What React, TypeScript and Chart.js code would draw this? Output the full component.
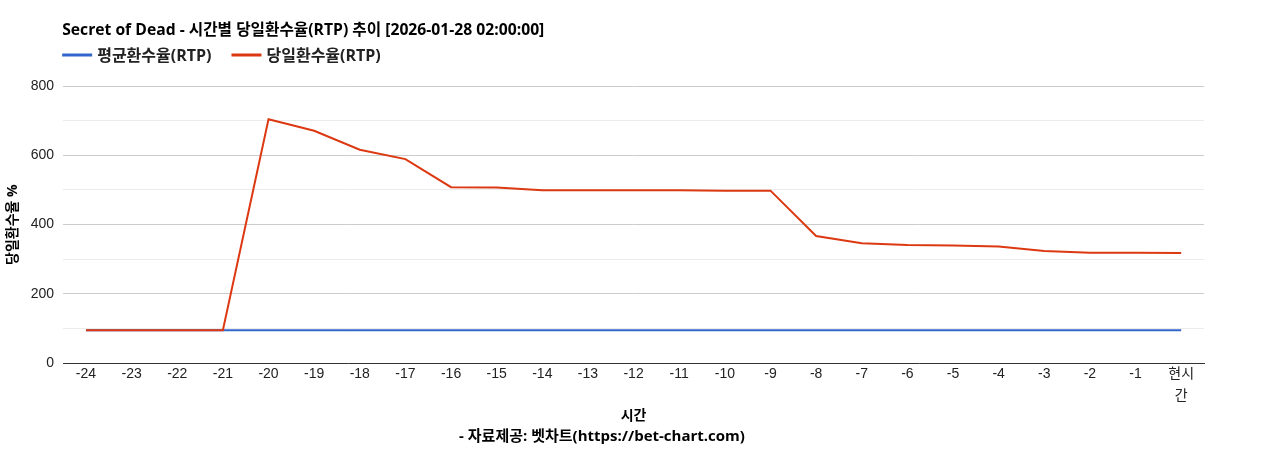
import { useEffect, useRef } from 'react';
import { Chart, registerables } from 'chart.js';

Chart.register(...registerables);

// hours before now, last one is "now"
const hours: (string | string[])[] = [
  '-24', '-23', '-22', '-21', '-20', '-19', '-18', '-17', '-16', '-15', '-14', '-13',
  '-12', '-11', '-10', '-9', '-8', '-7', '-6', '-5', '-4', '-3', '-2', '-1', ['현시', '간'],
];

// 평균환수율(RTP)
const avgRtp = [
  95, 95, 95, 95, 95, 95, 95, 95, 95, 95, 95, 95,
  95, 95, 95, 95, 95, 95, 95, 95, 95, 95, 95, 95, 95,
];

// 당일환수율(RTP)
const dailyRtp = [
  95, 95, 95, 95, 704, 671, 616, 589, 508, 507, 499, 499,
  499, 499, 498, 498, 367, 346, 341, 340, 337, 324, 319, 319, 318,
];

const yTicks = [0, 200, 400, 600, 800];

const FONT = "Arial, 'Liberation Sans', 'Noto Sans CJK KR', sans-serif";
const BOLD_FONT = "'Open Sans', 'Noto Sans CJK KR', sans-serif";
const BLUE = '#3366cc';
const RED = '#dc3912';

const titleText = 'Secret of Dead - 시간별 당일환수율(RTP) 추이 [2026-01-28 02:00:00]';
const legendItems = [
  { label: '평균환수율(RTP)', color: BLUE },
  { label: '당일환수율(RTP)', color: RED },
];

// title + legend drawn from the chart area's left edge
const headerPlugin = {
  id: 'header',
  afterDraw(chart: Chart) {
    const { ctx, chartArea } = chart;
    const left = chartArea.left - 1;
    ctx.save();
    ctx.textBaseline = 'middle';
    ctx.textAlign = 'left';
    ctx.fillStyle = '#000';
    ctx.font = `bold 15.7px ${BOLD_FONT}`;
    ctx.fillText(titleText, left, 31);

    ctx.font = `bold 16px ${BOLD_FONT}`;
    let x = left;
    legendItems.forEach((item) => {
      ctx.strokeStyle = item.color;
      ctx.lineWidth = 3;
      ctx.beginPath();
      ctx.moveTo(x, 55);
      ctx.lineTo(x + 30, 55);
      ctx.stroke();
      ctx.fillStyle = '#222';
      ctx.fillText(item.label, x + 35, 56);
      x += 35 + ctx.measureText(item.label).width + 20;
    });
    ctx.restore();
  },
};

export default function App() {
  const canvasRef = useRef<HTMLCanvasElement>(null);

  useEffect(() => {
    if (!canvasRef.current) return;
    const chart = new Chart(canvasRef.current, {
      type: 'line',
      data: {
        labels: hours,
        datasets: [
          {
            label: '평균환수율(RTP)',
            data: avgRtp,
            borderColor: BLUE,
            backgroundColor: BLUE,
            borderWidth: 2,
            pointRadius: 0,
            tension: 0,
            order: 1,
          },
          {
            label: '당일환수율(RTP)',
            data: dailyRtp,
            borderColor: RED,
            backgroundColor: RED,
            borderWidth: 2,
            pointRadius: 0,
            tension: 0,
            order: 0,
          },
        ],
      },
      options: {
        animation: false,
        responsive: false,
        layout: { padding: { top: 86, right: 64, left: 0, bottom: 0 } },
        plugins: {
          legend: { display: false },
          tooltip: { enabled: false },
          title: {
            display: true,
            position: 'bottom',
            text: '- 자료제공: 벳차트(https://bet-chart.com)',
            color: '#000',
            font: { family: BOLD_FONT, size: 15, weight: 'bold', lineHeight: 1.2 },
            padding: { top: 4, bottom: 4 },
          },
        },
        scales: {
          x: {
            offset: true,
            grid: { display: false, drawTicks: false },
            border: { display: true, color: '#333', width: 1 },
            ticks: {
              color: '#222',
              maxRotation: 0,
              autoSkip: false,
              padding: 0,
              font: { family: FONT, size: 14, lineHeight: 1.57 },
            },
            title: {
              display: true,
              text: '시간',
              color: '#000',
              font: { family: BOLD_FONT, size: 14, weight: 'bold', lineHeight: 1.2 },
              padding: 0,
            },
          },
          y: {
            min: 0,
            max: 800,
            grid: {
              drawTicks: false,
              color: (c: any) => (c.tick && c.tick.value % 200 === 0 ? '#cccccc' : '#ebebeb'),
            },
            border: { display: false },
            ticks: {
              stepSize: 100,
              padding: 9,
              color: '#222',
              font: { family: FONT, size: 14 },
              callback: (v: any) => (yTicks.includes(Number(v)) ? String(v) : ''),
            },
            title: {
              display: true,
              text: '당일환수율 %',
              color: '#000',
              font: { family: BOLD_FONT, size: 14, weight: 'bold' },
              padding: { top: 5, bottom: 0 },
            },
          },
        },
      },
      plugins: [headerPlugin],
    });
    return () => chart.destroy();
  }, []);

  return (
    <div style={{ position: 'fixed', left: 0, top: 0, width: 1268, height: 450, background: '#fff' }}>
      <canvas ref={canvasRef} width={1268} height={450} />
    </div>
  );
}
